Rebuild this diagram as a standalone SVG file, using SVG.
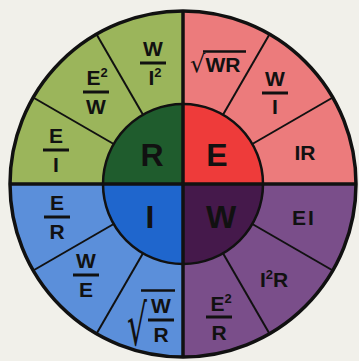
<svg xmlns="http://www.w3.org/2000/svg" width="359" height="361" viewBox="0 0 359 361">
<style>
.lbl{font-family:"Liberation Sans",Arial,sans-serif;font-weight:bold;font-size:21px;fill:#111;text-anchor:middle}
.big{font-family:"Liberation Sans",Arial,sans-serif;font-weight:bold;font-size:32px;fill:#111;text-anchor:middle}
.sup{font-size:13px}
.rad{font-family:"DejaVu Sans",sans-serif;font-size:24px;fill:#111}
.bar{stroke:#111;stroke-width:3}
.div{stroke:#111;stroke-width:2}
</style>
<rect width="359" height="361" fill="#f1f0ea"/>
<g id="quadrant-R">
<path d="M183,184 L10,184 A173,173 0 0 1 183,11 Z" fill="#9bb55b"/>
<path d="M183,184 L103,184 A80,80 0 0 1 183,104 Z" fill="#1f5c2d"/>
<text class="big" x="152" y="166">R</text>
</g>
<g id="quadrant-E">
<path d="M183,184 L183,11 A173,173 0 0 1 356,184 Z" fill="#ec7b7c"/>
<path d="M183,184 L183,104 A80,80 0 0 1 263,184 Z" fill="#ee3b3a"/>
<text class="big" x="217" y="166">E</text>
</g>
<g id="quadrant-I">
<path d="M183,184 L183,357 A173,173 0 0 1 10,184 Z" fill="#5b8fda"/>
<path d="M183,184 L183,264 A80,80 0 0 1 103,184 Z" fill="#1f66cd"/>
<text class="big" x="150" y="228">I</text>
</g>
<g id="quadrant-W">
<path d="M183,184 L356,184 A173,173 0 0 1 183,357 Z" fill="#7a4e8a"/>
<path d="M183,184 L263,184 A80,80 0 0 1 183,264 Z" fill="#45194b"/>
<text class="big" x="221" y="228">W</text>
</g>
<g id="connectors" fill="none">
<line class="div" x1="113.7" y1="144" x2="33.2" y2="97.5"/>
<line class="div" x1="143" y1="114.7" x2="96.5" y2="34.2"/>
<line class="div" x1="223" y1="114.7" x2="269.5" y2="34.2"/>
<line class="div" x1="252.3" y1="144" x2="332.8" y2="97.5"/>
<line class="div" x1="113.7" y1="224" x2="33.2" y2="270.5"/>
<line class="div" x1="143" y1="253.3" x2="96.5" y2="333.8"/>
<line class="div" x1="223" y1="253.3" x2="269.5" y2="333.8"/>
<line class="div" x1="252.3" y1="224" x2="332.8" y2="270.5"/>
<circle cx="183" cy="184" r="80" stroke="#111" stroke-width="2.5"/>
<line x1="183" y1="11" x2="183" y2="357" stroke="#111" stroke-width="3.5"/>
<line x1="10" y1="184" x2="356" y2="184" stroke="#111" stroke-width="3.5"/>
<circle cx="183" cy="184" r="173" stroke="#111" stroke-width="3.5"/>
</g>
<g id="label-W-I2">
<text class="lbl" x="153" y="56">W</text>
<line class="bar" x1="140" y1="63" x2="166" y2="63"/>
<text class="lbl" x="155" y="85">I<tspan class="sup" dy="-8">2</tspan></text>
</g>
<g id="label-E2-W">
<text class="lbl" x="97" y="85">E<tspan class="sup" dy="-8">2</tspan></text>
<line class="bar" x1="83" y1="92" x2="109" y2="92"/>
<text class="lbl" x="96" y="114">W</text>
</g>
<g id="label-E-I">
<text class="lbl" x="56" y="143">E</text>
<line class="bar" x1="43" y1="150" x2="69" y2="150"/>
<text class="lbl" x="56" y="172">I</text>
</g>
<g id="label-sqrtWR">
<text class="rad" x="190" y="72">√</text>
<line x1="203" y1="51.5" x2="246" y2="51.5" stroke="#111" stroke-width="2.5"/>
<text class="lbl" x="223" y="72">WR</text>
</g>
<g id="label-W-I">
<text class="lbl" x="275" y="86">W</text>
<line class="bar" x1="262" y1="93" x2="288" y2="93"/>
<text class="lbl" x="275" y="114">I</text>
</g>
<g id="label-IR">
<text class="lbl" x="305" y="160">IR</text>
</g>
<g id="label-E-R">
<text class="lbl" x="57" y="210">E</text>
<line class="bar" x1="44" y1="217" x2="70" y2="217"/>
<text class="lbl" x="57" y="239">R</text>
</g>
<g id="label-W-E">
<text class="lbl" x="86" y="268">W</text>
<line class="bar" x1="73" y1="275" x2="99" y2="275"/>
<text class="lbl" x="86" y="297">E</text>
</g>
<g id="label-sqrtW-R">
<text class="rad" transform="translate(127,345) scale(0.55,1)" x="0" y="0" style="font-size:57px">√</text>
<line x1="141" y1="290.5" x2="175" y2="290.5" stroke="#111" stroke-width="2.5"/>
<text class="lbl" x="161" y="313">W</text>
<line class="bar" x1="148" y1="320" x2="174" y2="320"/>
<text class="lbl" x="161" y="342">R</text>
</g>
<g id="label-EI">
<text class="lbl" x="304" y="225" letter-spacing="2">EI</text>
</g>
<g id="label-I2R">
<text class="lbl" x="274" y="287">I<tspan class="sup" dy="-8">2</tspan><tspan dy="8">R</tspan></text>
</g>
<g id="label-E2-R">
<text class="lbl" x="221" y="311">E<tspan class="sup" dy="-8">2</tspan></text>
<line class="bar" x1="206" y1="317" x2="232" y2="317"/>
<text class="lbl" x="219" y="340">R</text>
</g>
</svg>
